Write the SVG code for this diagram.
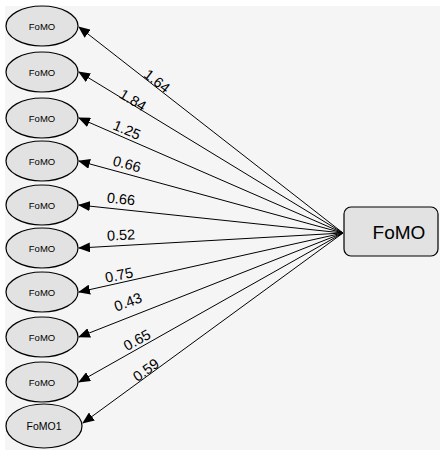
<svg xmlns="http://www.w3.org/2000/svg" width="448" height="455" viewBox="0 0 448 455">
<defs>
<marker id="ah" markerWidth="12" markerHeight="10" refX="11" refY="5" orient="auto" markerUnits="userSpaceOnUse">
<path d="M0,0 L12,5 L0,10 Z" fill="#000"/>
</marker>
<style>
.bg{fill:#f5f5f5}
.el{fill:#e2e2e2;stroke:#000;stroke-width:1.2}
.box{fill:#e2e2e2;stroke:#000;stroke-width:1.2}
.t{font-family:"Liberation Sans",Arial,sans-serif;fill:#000;text-anchor:middle}
.s{font-size:9.5px}
.b{font-size:19px}
.l{font-size:14.5px}
.c{stroke:#000;stroke-width:1;fill:none;marker-end:url(#ah)}
</style>
</defs>
<rect class="bg" x="5" y="6" width="435" height="444"/>
<g id="connectors">
<line class="c" x1="343" y1="233" x2="79" y2="27"/>
<line class="c" x1="343" y1="233" x2="79" y2="72"/>
<line class="c" x1="343" y1="233" x2="79" y2="118"/>
<line class="c" x1="343" y1="233" x2="79" y2="161"/>
<line class="c" x1="343" y1="233" x2="79" y2="205"/>
<line class="c" x1="343" y1="233" x2="79" y2="248"/>
<line class="c" x1="343" y1="233" x2="79" y2="292"/>
<line class="c" x1="343" y1="233" x2="79" y2="337"/>
<line class="c" x1="343" y1="233" x2="79" y2="382"/>
<line class="c" x1="343" y1="233" x2="83" y2="423"/>
<text class="t l" transform="translate(157,81) rotate(38)" y="5">1.64</text>
<text class="t l" transform="translate(133,100) rotate(31)" y="5">1.84</text>
<text class="t l" transform="translate(127,130) rotate(23)" y="5">1.25</text>
<text class="t l" transform="translate(127,164) rotate(15)" y="5">0.66</text>
<text class="t l" transform="translate(121,199) rotate(6)" y="5">0.66</text>
<text class="t l" transform="translate(121,235) rotate(-3)" y="5">0.52</text>
<text class="t l" transform="translate(119,275) rotate(-12)" y="5">0.75</text>
<text class="t l" transform="translate(128,302) rotate(-21)" y="5">0.43</text>
<text class="t l" transform="translate(137,340) rotate(-29)" y="5">0.65</text>
<text class="t l" transform="translate(146,370) rotate(-36)" y="5">0.59</text>
</g>
<g id="n1"><ellipse class="el" cx="42" cy="26" rx="36" ry="20"/><text class="t s" x="42" y="29.5">FoMO</text></g>
<g id="n2"><ellipse class="el" cx="42" cy="72" rx="36" ry="20"/><text class="t s" x="42" y="75.5">FoMO</text></g>
<g id="n3"><ellipse class="el" cx="42" cy="118" rx="36" ry="20"/><text class="t s" x="42" y="121.5">FoMO</text></g>
<g id="n4"><ellipse class="el" cx="42" cy="161" rx="36" ry="20"/><text class="t s" x="42" y="164.5">FoMO</text></g>
<g id="n5"><ellipse class="el" cx="42" cy="205" rx="36" ry="20"/><text class="t s" x="42" y="208.5">FoMO</text></g>
<g id="n6"><ellipse class="el" cx="42" cy="248" rx="36" ry="20"/><text class="t s" x="42" y="251.5">FoMO</text></g>
<g id="n7"><ellipse class="el" cx="42" cy="292" rx="36" ry="20"/><text class="t s" x="42" y="295.5">FoMO</text></g>
<g id="n8"><ellipse class="el" cx="42" cy="337" rx="36" ry="20"/><text class="t s" x="42" y="340.5">FoMO</text></g>
<g id="n9"><ellipse class="el" cx="42" cy="382" rx="36" ry="20"/><text class="t s" x="42" y="385.5">FoMO</text></g>
<g id="n10"><ellipse class="el" cx="44" cy="426" rx="38" ry="22"/><text class="t s" x="44" y="430" style="font-size:10.5px">FoMO1</text></g>
<g id="main"><rect class="box" x="344" y="207" width="94" height="49" rx="7" ry="7"/><text class="t b" x="399" y="239">FoMO</text></g>
</svg>
